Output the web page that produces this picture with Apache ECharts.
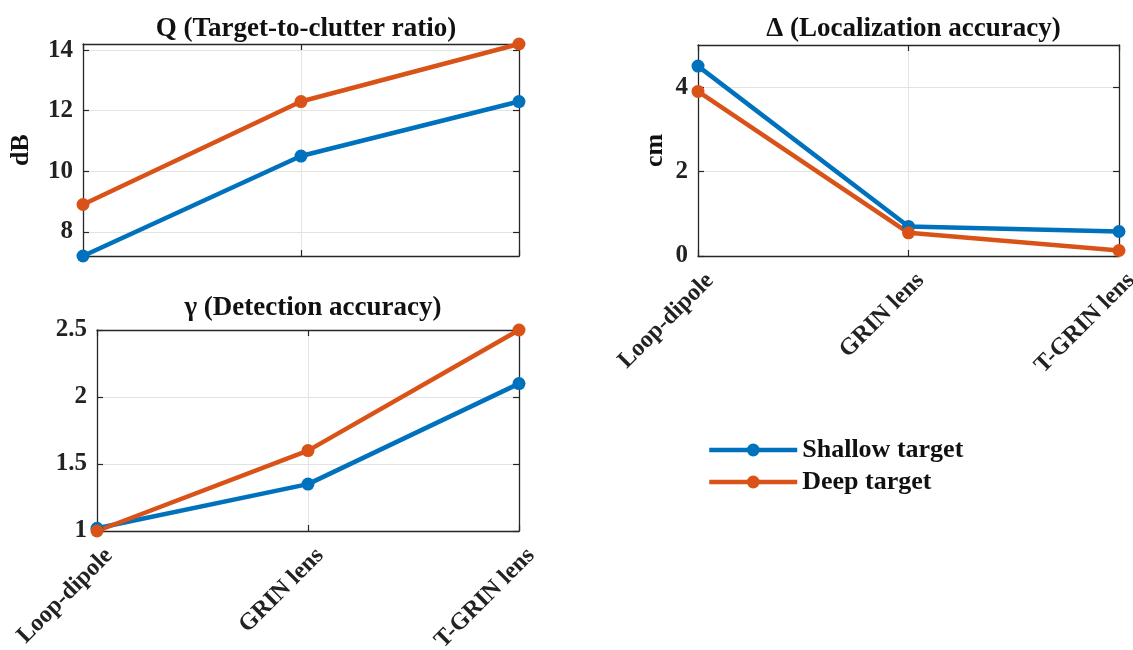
<!DOCTYPE html>
<html><head><meta charset="utf-8">
<script src="https://cdn.jsdelivr.net/npm/echarts@6/dist/echarts.min.js"></script>
<style>html,body{margin:0;padding:0;background:#fff}#c{width:1133px;height:650px}</style>
</head><body><div id="c"></div>
<script>
const categories = ['Loop-dipole', 'GRIN lens', 'T-GRIN lens'];
const seriesNames = ['Shallow target', 'Deep target'];
const qShallow = [7.2, 10.5, 12.3];
const qDeep = [8.9, 12.3, 14.2];
const gammaShallow = [1.02, 1.35, 2.1];
const gammaDeep = [1.0, 1.6, 2.5];
const deltaShallow = [4.5, 0.7, 0.58];
const deltaDeep = [3.9, 0.55, 0.13];
const qTicks = [8, 10, 12, 14];
const gammaTicks = [1, 1.5, 2, 2.5];
const deltaTicks = [0, 2, 4];
const titles = ['Q (Target-to-clutter ratio)', 'γ (Detection accuracy)', 'Δ (Localization accuracy)'];
const yNames = ['dB', '', 'cm'];

const FONT = '"Liberation Serif", "DejaVu Serif", serif';
const colors = ['#0072BD', '#D95319'];
const grids = [
  {left: 83, top: 44, width: 436, height: 212, outerBoundsMode: 'none', containLabel: false},
  {left: 97, top: 330, width: 422, height: 201, outerBoundsMode: 'none', containLabel: false},
  {left: 698, top: 45, width: 421, height: 211, outerBoundsMode: 'none', containLabel: false}
];
const titleTops = [11, 290, 11];
const nameGaps = [49, 0, 30];
const yRanges = [[7.2, 14.2], [1, 2.5], [0, 5]];
const yTicks = [qTicks, gammaTicks, deltaTicks];
const showX = [false, true, true];
const data = [[qShallow, qDeep], [gammaShallow, gammaDeep], [deltaShallow, deltaDeep]];

const axisLineStyle = {color: '#262626', width: 1.3};
const tickStyle = {show: true, inside: true, length: 6, lineStyle: {color: '#262626', width: 1.2}};
const gridLine = {show: true, lineStyle: {color: '#e3e3e3', width: 1}};
const xAxis = [], yAxis = [], series = [], title = [];
grids.forEach((g, i) => {
  title.push({
    text: titles[i], left: g.left + g.width / 2, top: titleTops[i], textAlign: 'center',
    textStyle: {fontFamily: FONT, fontWeight: 'bold', fontSize: 27, color: '#111'}
  });
  xAxis.push({
    type: 'category', gridIndex: i, data: categories, boundaryGap: false,
    axisLine: {onZero: false, lineStyle: axisLineStyle}, axisTick: tickStyle,
    splitLine: gridLine,
    axisLabel: {show: showX[i], rotate: 45, margin: 9, verticalAlign: 'top', padding: [5, 0, 0, 0],
      fontFamily: FONT, fontWeight: 'bold', fontSize: 24, color: '#222'}
  });
  xAxis.push({
    type: 'category', gridIndex: i, data: categories, boundaryGap: false, position: 'top',
    axisLine: {onZero: false, lineStyle: axisLineStyle}, axisTick: tickStyle,
    axisLabel: {show: false}, splitLine: {show: false}
  });
  yAxis.push({
    type: 'value', gridIndex: i, min: yRanges[i][0], max: yRanges[i][1],
    name: yNames[i], nameLocation: 'middle', nameGap: nameGaps[i],
    nameTextStyle: {fontFamily: FONT, fontWeight: 'bold', fontSize: 26, color: '#111'},
    axisLine: {show: true, onZero: false, lineStyle: axisLineStyle},
    axisTick: Object.assign({customValues: yTicks[i]}, tickStyle),
    axisLabel: {customValues: yTicks[i], margin: 10, fontFamily: FONT, fontWeight: 'bold', fontSize: 25, color: '#222'},
    splitLine: gridLine
  });
  yAxis.push({
    type: 'value', gridIndex: i, min: yRanges[i][0], max: yRanges[i][1], position: 'right',
    axisLine: {show: true, onZero: false, lineStyle: axisLineStyle},
    axisTick: Object.assign({customValues: yTicks[i]}, tickStyle),
    axisLabel: {show: false, customValues: yTicks[i]}, splitLine: {show: false}
  });
  data[i].forEach((d, k) => {
    series.push({
      type: 'line', name: seriesNames[k], xAxisIndex: i * 2, yAxisIndex: i * 2, data: d,
      symbol: 'circle', symbolSize: 13, clip: false,
      lineStyle: {width: 4.5, color: colors[k]}, itemStyle: {color: colors[k]}
    });
  });
});

const chart = echarts.init(document.getElementById('c'), null, {renderer: 'canvas'});
chart.setOption({
  animation: false,
  backgroundColor: '#fff',
  title: title,
  grid: grids,
  xAxis: xAxis,
  yAxis: yAxis,
  legend: {
    data: seriesNames, orient: 'vertical', left: 707, top: 437, padding: 0,
    itemWidth: 88, itemHeight: 16, itemGap: 6,
    lineStyle: {width: 4.5},
    textStyle: {fontFamily: FONT, fontWeight: 'bold', fontSize: 26, color: '#111'}
  },
  series: series
});
</script></body></html>
